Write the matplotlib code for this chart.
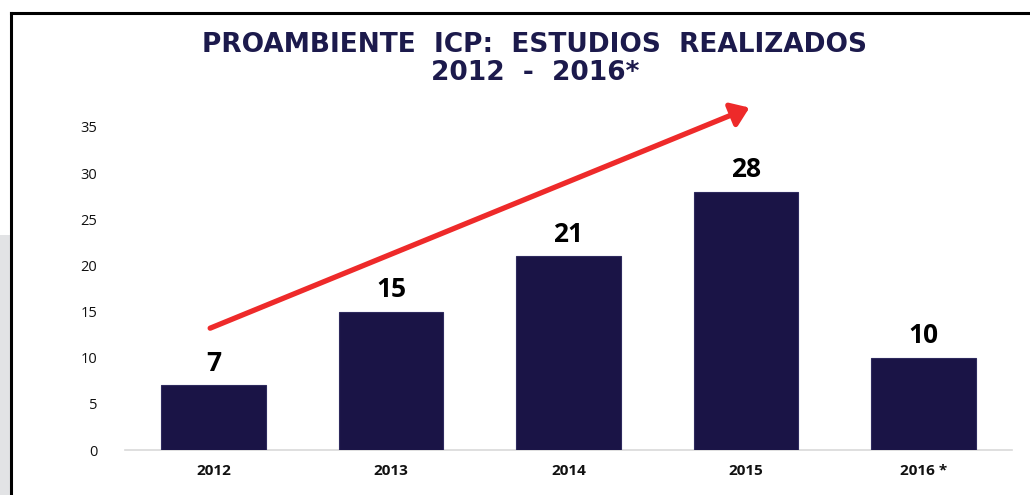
import matplotlib
matplotlib.use("Agg")
import matplotlib.pyplot as plt
from matplotlib.patches import FancyArrowPatch, Rectangle
from matplotlib.lines import Line2D

categories = ["2012", "2013", "2014", "2015", "2016 *"]
values = [7, 15, 21, 28, 10]
yticks = [0, 5, 10, 15, 20, 25, 30, 35]
title_line1 = "PROAMBIENTE  ICP:  ESTUDIOS  REALIZADOS"
title_line2 = "2012  -  2016*"

W, H = 1030, 495
fig = plt.figure(figsize=(W / 100, H / 100), dpi=100)
fig.patch.set_facecolor("white")

# left gray strip and black frame
fig.add_artist(Rectangle((0, 0), 10 / W, 1 - 235 / H, transform=fig.transFigure,
                         facecolor="#e2e3e5", edgecolor="none"))
fig.add_artist(Line2D([10.5 / W, 10.5 / W], [0, 1 - 12.5 / H], transform=fig.transFigure,
                      color="black", lw=2.2, solid_capstyle="projecting"))
fig.add_artist(Line2D([10.5 / W, 1], [1 - 12.5 / H, 1 - 12.5 / H], transform=fig.transFigure,
                      color="black", lw=2.2, solid_capstyle="projecting"))

ax = fig.add_axes([125 / W, 1 - 450 / H, (1012 - 125) / W, (450 - 127) / H])
x = list(range(len(categories)))
bar_color = "#1a1446"
ax.bar(x, values, width=0.59, color=bar_color, edgecolor="#2e2a5e", linewidth=0.8, zorder=3)

ax.set_xlim(-0.5, len(categories) - 0.5)
ax.set_ylim(0, 35)
ax.set_yticks(yticks)
ax.set_yticklabels([str(t) for t in yticks], fontsize=10.5, family="Open Sans", color="#111111")
ax.set_xticks(x)
ax.set_xticklabels(categories, fontsize=11, fontweight="bold", family="Open Sans", color="#111111")
ax.tick_params(axis="y", length=0, pad=20)
ax.tick_params(axis="x", length=0, pad=10)
for s in ["top", "right", "left"]:
    ax.spines[s].set_visible(False)
ax.spines["bottom"].set_color("#d9d9d9")
ax.spines["bottom"].set_linewidth(1.2)
ax.set_facecolor("none")

for xi, v in zip(x, values):
    ax.annotate(str(v), (xi, v), xytext=(0, 6), textcoords="offset points",
                ha="center", va="bottom", fontsize=19, fontweight="bold",
                family="Open Sans", color="black")

# trend arrow
arrow = FancyArrowPatch((-0.02, 13.2), (3.02, 37.1), transform=ax.transData,
                        arrowstyle="-|>,head_length=7,head_width=5", mutation_scale=1.5,
                        color="#ee2a2a", lw=3.8, clip_on=False, zorder=5,
                        shrinkA=0, shrinkB=0)
ax.add_patch(arrow)

fig.text(535 / W, 1 - 45 / H, title_line1, ha="center", va="center", fontsize=19,
         fontweight="bold", family="DejaVu Sans", color="#1c1a4c")
fig.text(535 / W, 1 - 73 / H, title_line2, ha="center", va="center", fontsize=19,
         fontweight="bold", family="DejaVu Sans", color="#1c1a4c")

fig.savefig("out.png", dpi=100)
